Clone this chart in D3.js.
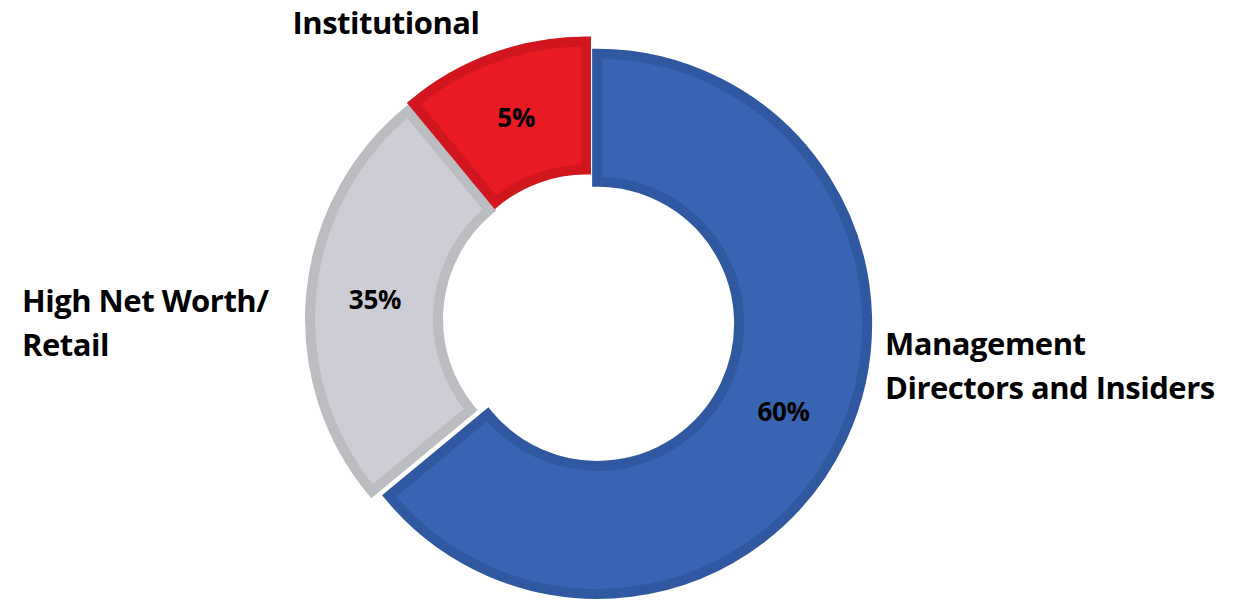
<!DOCTYPE html>
<html>
<head>
<meta charset="utf-8">
<script src="https://cdn.jsdelivr.net/npm/d3@7"></script>
<style>
  body { margin: 0; background: #fff; }
  text { font-family: "Open Sans", Lato, sans-serif; font-weight: bold; fill: #000; }
</style>
</head>
<body>
<svg id="donut" width="1248" height="600"></svg>
<script>
// slice shares as drawn (clockwise from 12 o'clock)
var categories = ["Management Directors and Insiders", "High Net Worth/Retail", "Institutional"];
var shares = [64, 25, 11];
var pctLabels = ["60%", "35%", "5%"];
var fills = ["#3864b2", "#cdced5", "#ea1a24"];
var borders = ["#2f58a0", "#bcbdc1", "#d2161f"];

var svg = d3.select("svg#donut"),
    cx = 589, cy = 320,
    explode = 9;

var pie = d3.pie().sort(null).value(function(d) { return d; });
var arc = d3.arc().innerRadius(142).outerRadius(270);

var arcs = pie(shares);

var g = svg.append("g").attr("transform", "translate(" + cx + "," + cy + ")");

function offset(d) {
  var mid = (d.startAngle + d.endAngle) / 2;
  return [explode * Math.sin(mid), -explode * Math.cos(mid)];
}

var slice = g.selectAll("g.slice")
    .data(arcs)
    .enter().append("g")
    .attr("class", "slice")
    .attr("transform", function(d) { var o = offset(d); return "translate(" + o[0] + "," + o[1] + ")"; });

slice.append("path")
    .attr("d", arc)
    .attr("fill", function(d, i) { return fills[i]; })
    .attr("stroke", function(d, i) { return borders[i]; })
    .attr("stroke-width", 10)
    .attr("stroke-linejoin", "miter");

slice.append("text")
    .attr("transform", function(d) { return "translate(" + arc.centroid(d) + ")"; })
    .attr("text-anchor", "middle")
    .attr("dy", "0.36em")
    .style("font-size", "26px")
    .style("letter-spacing", "-0.3px")
    .text(function(d, i) { return pctLabels[i]; });

// category labels
var catLines = [
  { lines: ["Management", "Directors and Insiders"], x: 885, y: 355, anchor: "start" },
  { lines: ["High Net Worth/", "Retail"], x: 22, y: 312, anchor: "start" },
  { lines: ["Institutional"], x: 386, y: 34, anchor: "middle" }
];

catLines.forEach(function(c) {
  var t = svg.append("text")
      .attr("x", c.x)
      .attr("y", c.y)
      .attr("text-anchor", c.anchor)
      .style("font-size", "31px")
      .style("letter-spacing", "-0.5px");
  c.lines.forEach(function(l, j) {
    t.append("tspan").attr("x", c.x).attr("dy", j ? 44 : 0).text(l);
  });
});
</script>
</body>
</html>
